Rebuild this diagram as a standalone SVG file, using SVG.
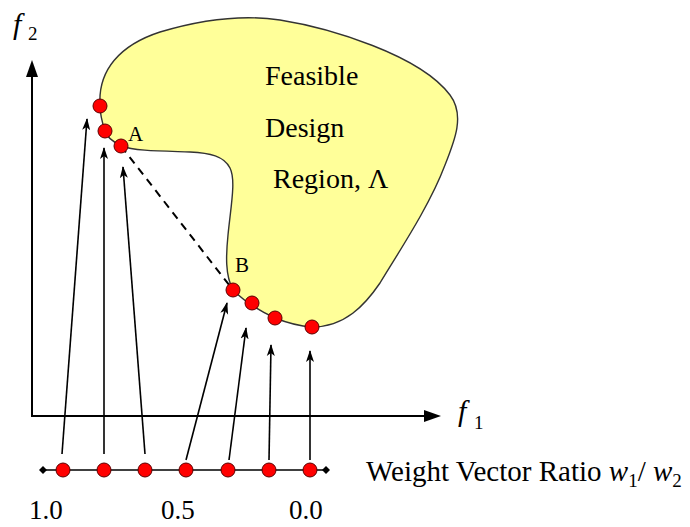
<svg xmlns="http://www.w3.org/2000/svg" width="690" height="527" viewBox="0 0 690 527">
<style>
.t{font-family:"Liberation Serif","Times New Roman",serif;fill:#000}
.pt{fill:#ff0000;stroke:#5a0000;stroke-width:1}
.ax{stroke:#000;stroke-width:2;fill:none}
.ar{stroke:#000;stroke-width:1.6;fill:none;marker-end:url(#ah)}
</style>
<defs>
<marker id="ah" markerWidth="12" markerHeight="10" viewBox="0 0 12 10" refX="11" refY="5" orient="auto" markerUnits="userSpaceOnUse">
<path d="M0,1 L12,5 L0,9 L3,5 Z" fill="#000"/>
</marker>
</defs>
<rect width="690" height="527" fill="#fff"/>
<g id="region">
<path d="M100,105 C98,70 120,45 160,32 C200,20 240,14 280,20 C330,28 420,55 450,95 C465,115 455,140 445,165 C430,205 400,250 380,283 C365,305 345,327 312,327 C298,326 285,322 275,318 C262,312 245,302 233,290 C225,275 226,255 228,235 C231,205 236,180 230,168 C224,156 210,153 190,152 C160,151 135,151 121,146 C112,141 106,136 105,131 C102,122 100,113 100,105 Z" fill="#ffff99" stroke="#333" stroke-width="1.4"/>
<text class="t" x="265" y="85" font-size="28">Feasible</text>
<text class="t" x="265" y="137" font-size="28">Design</text>
<text class="t" x="273" y="188" font-size="28">Region, Λ</text>
</g>
<g id="axes">
<line class="ax" x1="32" y1="417" x2="32" y2="72"/>
<path d="M32,60 L38,77 L26,77 Z" fill="#000"/>
<line class="ax" x1="31" y1="416" x2="428" y2="416"/>
<path d="M441,416 L424,422 L424,410 Z" fill="#000"/>
<text class="t" x="13" y="34" font-size="30" font-style="italic">f</text>
<text class="t" x="28" y="40" font-size="19">2</text>
<text class="t" x="458" y="421" font-size="30" font-style="italic">f</text>
<text class="t" x="474" y="429" font-size="19">1</text>
</g>
<g id="connectors">
<line x1="121" y1="146" x2="233" y2="290" stroke="#000" stroke-width="2" stroke-dasharray="8,6"/>
<line class="ar" x1="62" y1="454" x2="87" y2="119"/>
<line class="ar" x1="104" y1="454" x2="104" y2="148"/>
<line class="ar" x1="145" y1="454" x2="123" y2="167"/>
<line class="ar" x1="186" y1="460" x2="227" y2="303"/>
<line class="ar" x1="229" y1="460" x2="246" y2="328"/>
<line class="ar" x1="269" y1="460" x2="271" y2="345"/>
<line class="ar" x1="310" y1="460" x2="310" y2="351"/>
</g>
<g id="pareto-points">
<circle class="pt" cx="100" cy="106" r="7"/>
<circle class="pt" cx="105" cy="131" r="7"/>
<circle class="pt" cx="121" cy="146" r="7"/>
<circle class="pt" cx="233" cy="290" r="7"/>
<circle class="pt" cx="252" cy="303" r="7"/>
<circle class="pt" cx="275" cy="318" r="7"/>
<circle class="pt" cx="312" cy="327" r="7"/>
<text class="t" x="128" y="141" font-size="21">A</text>
<text class="t" x="235" y="272" font-size="21">B</text>
</g>
<g id="weight-axis">
<line x1="43" y1="470" x2="326" y2="470" stroke="#000" stroke-width="1.6"/>
<path d="M43,466 L47,470 L43,474 L39,470 Z" fill="#000"/>
<path d="M326,466 L330,470 L326,474 L322,470 Z" fill="#000"/>
<circle class="pt" cx="63" cy="470" r="7"/>
<circle class="pt" cx="104" cy="470" r="7"/>
<circle class="pt" cx="145" cy="470" r="7"/>
<circle class="pt" cx="186" cy="470" r="7"/>
<circle class="pt" cx="228" cy="470" r="7"/>
<circle class="pt" cx="269" cy="470" r="7"/>
<circle class="pt" cx="310" cy="470" r="7"/>
<text class="t" x="29" y="519" font-size="27">1.0</text>
<text class="t" x="161" y="519" font-size="27">0.5</text>
<text class="t" x="289" y="519" font-size="27">0.0</text>
<text class="t" x="366" y="481" font-size="29">Weight Vector Ratio <tspan font-style="italic">w</tspan><tspan font-size="19" dy="6">1</tspan><tspan dy="-6">/ </tspan><tspan font-style="italic">w</tspan><tspan font-size="19" dy="6">2</tspan></text>
</g>
</svg>
